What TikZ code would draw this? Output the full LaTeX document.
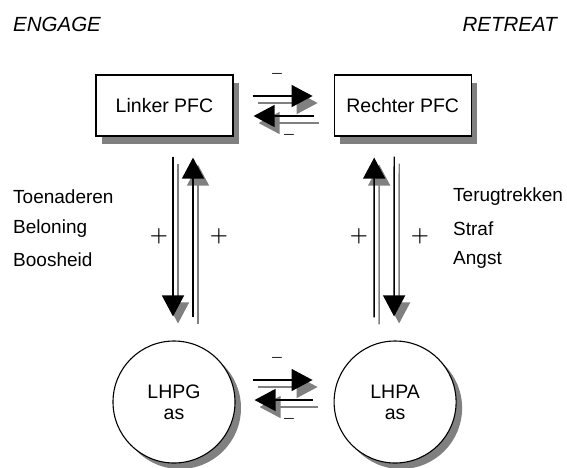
\documentclass[tikz,border=0pt]{standalone}
\usepackage{fontspec}
\setmainfont{Liberation Sans}
\usetikzlibrary{arrows.meta,positioning,shadows}
\definecolor{lhpShadow}{RGB}{128, 128, 128}

\begin{document}
\begin{tikzpicture}[
  x=1pt,y=-1pt,
  cortex/.style={
    draw,
    line width=1.2pt,
    fill=white,
    minimum width=137pt,
    minimum height=61pt,
    align=center,
    font=\fontsize{19.5}{22}\selectfont,
    drop shadow={shadow xshift=6pt,shadow yshift=-8pt,fill=lhpShadow,opacity=1}
  },
  hpa/.style={
    draw,
    circle,
    line width=1.1pt,
    fill=white,
    minimum size=122pt,
    inner sep=0pt,
    align=center,
    font=\fontsize{19.5}{21}\selectfont,
    drop shadow={shadow xshift=6pt,shadow yshift=-6pt,fill=lhpShadow,opacity=1}
  },
  label/.style={font=\fontsize{19}{22}\selectfont,inner sep=0pt},
  sign/.style={font=\fontsize{22}{24}\selectfont\boldmath,inner sep=0pt},
  arrow/.style={
    line width=1.4pt,
    -{Triangle[length=21pt,width=22pt]},
    preaction={draw=lhpShadow,line width=1.4pt,
      -{Triangle[length=21pt,width=22pt]},
      transform canvas={xshift=5pt,yshift=-7pt}}
  }
]
  \useasboundingbox (0,0) rectangle (567,467);

  \node[label,font=\fontsize{20.5}{22}\selectfont\itshape,anchor=west] (engage) at (13,24) {ENGAGE};
  \node[label,font=\fontsize{20.5}{22}\selectfont\itshape,anchor=east] (retreat) at (557,24) {RETREAT};

  \node[cortex] (lpfc) at (164.5,105.5) {Linker PFC};
  \node[cortex,right=100pt of lpfc] (rpfc) {Rechter PFC};
  \node[hpa] (lhpg) at (174,402) {LHPG\\as};
  \node[hpa,right=98pt of lhpg] (lhpa) {LHPA\\as};

  \node[label,anchor=west] (approach) at (13,197) {Toenaderen};
  \node[label,anchor=west] (reward) at (13,229) {Beloning};
  \node[label,anchor=west] (anger) at (13,260) {Boosheid};
  \node[label,anchor=west] (withdraw) at (453,197) {Terugtrekken};
  \node[label,anchor=west] (punish) at (453,229) {Straf};
  \node[label,anchor=west] (fear) at (453,260) {Angst};

  \draw[arrow] ([xshift=19pt,yshift=9.5pt]lpfc.east) -- ([xshift=-21pt,yshift=9.5pt]rpfc.west);
  \draw[arrow] ([xshift=-20pt,yshift=-10.5pt]rpfc.west) -- ([xshift=20pt,yshift=-10.5pt]lpfc.east);
  \draw[arrow] ([xshift=17pt,yshift=22pt]lhpg.east) -- ([xshift=-21pt,yshift=22pt]lhpa.west);
  \draw[arrow] ([xshift=-21pt,yshift=2pt]lhpa.west) -- ([xshift=19pt,yshift=2pt]lhpg.east);

  \draw[arrow] ([xshift=8.5pt,yshift=-20pt]lpfc.south) -- ([xshift=-1pt,yshift=24pt]lhpg.north);
  \draw[arrow] ([xshift=19pt,yshift=23pt]lhpg.north) -- ([xshift=28.5pt,yshift=-21pt]lpfc.south);
  \draw[arrow] ([xshift=-21pt,yshift=23pt]lhpa.north) -- ([xshift=-28.5pt,yshift=-21pt]rpfc.south);
  \draw[arrow] ([xshift=-8.5pt,yshift=-20pt]rpfc.south) -- ([xshift=-1pt,yshift=24pt]lhpa.north);

  \node[sign,font=\fontsize{15}{16}\selectfont\boldmath] (inhibtop) at (277,74) {$-$};
  \node[sign,font=\fontsize{15}{16}\selectfont\boldmath] (inhibtopback) at (289,135) {$-$};
  \node[sign,font=\fontsize{15}{16}\selectfont\boldmath] (inhibbot) at (277,358) {$-$};
  \node[sign,font=\fontsize{15}{16}\selectfont\boldmath] (inhibbotback) at (289,419) {$-$};
  \node[sign] (excitelpfc) at (159,236) {$+$};
  \node[sign] (excitelhpg) at (219,236) {$+$};
  \node[sign] (exciterpfc) at (359,236) {$+$};
  \node[sign] (excitelhpa) at (420,236) {$+$};
\end{tikzpicture}
\end{document}
